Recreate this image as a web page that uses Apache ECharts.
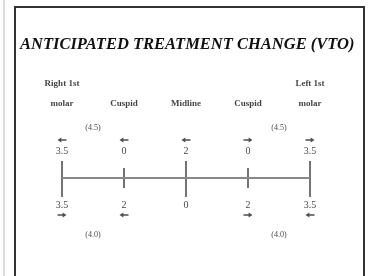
<!DOCTYPE html>
<html>
<head>
<meta charset="utf-8">
<script src="https://cdn.jsdelivr.net/npm/echarts@6/dist/echarts.min.js"></script>
<style>
  html, body { margin: 0; padding: 0; background: #fff; }
  #chart { width: 368px; height: 276px; }
</style>
</head>
<body>
<div id="chart"></div>
<script>
// teeth along the arch, left to right on the slide
var teeth = ['Right 1st\nmolar', 'Cuspid', 'Midline', 'Cuspid', 'Left 1st\nmolar']
var tickKind = ['long', 'short', 'long', 'short', 'long']
// upper arch change (mm) and direction
var upperValues = ['3.5', '0', '2', '0', '3.5']
var upperDir = ['left', 'left', 'left', 'right', 'right']
// lower arch change (mm) and direction
var lowerValues = ['3.5', '2', '0', '2', '3.5']
var lowerDir = ['right', 'left', '', 'right', 'left']
// space figures between molar and cuspid
var upperSpace = ['(4.5)', '(4.5)']
var lowerSpace = ['(4.0)', '(4.0)']

var arrowPath = 'path://M0,5 L6,0 L6,3.6 L14,3.6 L14,6.4 L6,6.4 L6,10 Z'
var serif = '"Liberation Serif", "DejaVu Serif", serif'

// row levels on the hidden y axis
var ROW_NAME = 6.4
var ROW_UP_SPACE = 5.0
var ROW_UP_ARROW = 3.8
var ROW_UP_NUM = 2.7
var ROW_LO_NUM = -2.7
var ROW_LO_ARROW = -3.7
var ROW_LO_SPACE = -5.7

function textRow (labels, xs, y, font) {
  return {
    type: 'scatter',
    symbolSize: 1,
    itemStyle: { color: 'rgba(0,0,0,0)' },
    silent: true,
    data: labels.map(function (t, i) { return { value: [xs[i], y], name: t } }),
    label: Object.assign({
      show: true,
      position: 'inside',
      formatter: function (p) { return p.name },
      color: '#111',
      fontFamily: serif
    }, font)
  }
}

function arrowRow (dirs, y) {
  var data = []
  dirs.forEach(function (d, i) {
    if (!d) return
    data.push({ value: [i, y], symbolRotate: d === 'right' ? 180 : 0 })
  })
  return {
    type: 'scatter',
    symbol: arrowPath,
    symbolSize: [9, 5],
    itemStyle: { color: '#222' },
    silent: true,
    data: data
  }
}

var idx = teeth.map(function (t, i) { return i })

var chart = echarts.init(document.getElementById('chart'))
var option = {
  backgroundColor: '#fff',
  animation: false,
  title: {
    text: 'ANTICIPATED TREATMENT CHANGE (VTO)',
    left: 15,
    top: 31,
    textStyle: {
      fontFamily: serif,
      fontStyle: 'italic',
      fontWeight: 'bold',
      fontSize: 16.5,
      color: '#111'
    }
  },
  graphic: [
    {
      type: 'line',
      shape: { x1: 4, y1: 0, x2: 4, y2: 276 },
      style: { stroke: '#bbb', lineWidth: 1 }
    },
    {
      type: 'rect',
      shape: { x: 15, y: 7, width: 349, height: 275 },
      style: { fill: 'none', stroke: '#333', lineWidth: 2 }
    }
  ],
  grid: { left: 62, right: 58, top: 68, bottom: 18 },
  xAxis: { type: 'value', min: 0, max: 4, show: false },
  yAxis: { type: 'value', min: -8, max: 11, show: false },
  series: [
    {
      // the arch line
      type: 'line',
      symbol: 'none',
      silent: true,
      lineStyle: { color: '#888', width: 2 },
      data: [[0, 0], [4, 0]]
    },
    {
      // tooth ticks
      type: 'custom',
      silent: true,
      data: idx.map(function (i) { return [i, tickKind[i] === 'long' ? 1 : 0] }),
      renderItem: function (params, api) {
        var long = api.value(1) === 1
        var top = api.coord([api.value(0), long ? 1.7 : 1.0])
        var bot = api.coord([api.value(0), long ? -1.9 : -1.0])
        return {
          type: 'line',
          shape: { x1: top[0], y1: top[1], x2: bot[0], y2: bot[1] },
          style: { stroke: '#444', lineWidth: 1.5 }
        }
      }
    },
    textRow(teeth, idx, ROW_NAME, {
      position: 'top', distance: 0, fontSize: 9, fontWeight: 'bold', lineHeight: 20
    }),
    textRow(upperSpace, [0.5, 3.5], ROW_UP_SPACE, { fontSize: 8 }),
    arrowRow(upperDir, ROW_UP_ARROW),
    textRow(upperValues, idx, ROW_UP_NUM, { fontSize: 10 }),
    textRow(lowerValues, idx, ROW_LO_NUM, { fontSize: 10 }),
    arrowRow(lowerDir, ROW_LO_ARROW),
    textRow(lowerSpace, [0.5, 3.5], ROW_LO_SPACE, { fontSize: 8 })
  ]
}
chart.setOption(option)
</script>
</body>
</html>
